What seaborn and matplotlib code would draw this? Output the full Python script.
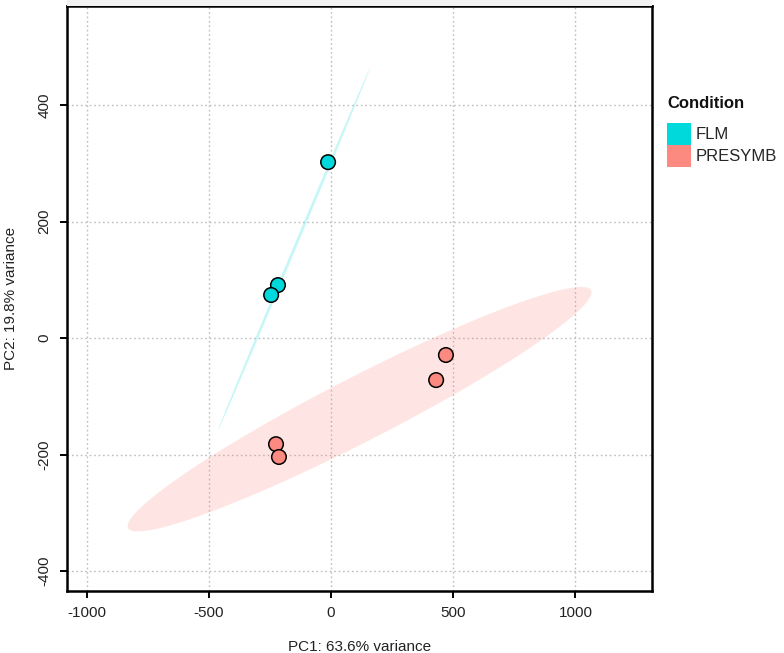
import numpy as np
import pandas as pd
import matplotlib
matplotlib.use("Agg")
import matplotlib.pyplot as plt
from matplotlib.patches import Patch, Rectangle
import seaborn as sns

# ---- data ----
conditions = ["FLM", "FLM", "FLM", "PRESYMB", "PRESYMB", "PRESYMB", "PRESYMB"]
pc1 = [-12, -217, -245, 470, 430, -225, -213]
pc2 = [302, 91, 74, -29, -72, -182, -204]

levels = ["FLM", "PRESYMB"]
colors = ["#00D9DC", "#FC8A80"]

# ellipse parameters (centre, major half-axis vector, minor half-axis vector), data units
ell_center = {"FLM": (-151, 153), "PRESYMB": (117, -122)}
ell_major = {"FLM": (311, 311), "PRESYMB": (947, 204)}
ell_minor = {"FLM": (4.5, -1.9), "PRESYMB": (60, -49)}

x_ticks = [-1000, -500, 0, 500, 1000]
y_ticks = [-400, -200, 0, 200, 400]
xlabel = "PC1: 63.6% variance"
ylabel = "PC2: 19.8% variance"
legend_title = "Condition"

df = pd.DataFrame({"PC1": pc1, "PC2": pc2, "Condition": conditions})

sns.set_style("white")
plt.rcParams["font.family"] = ["Liberation Sans", "DejaVu Sans"]
plt.rcParams["axes.unicode_minus"] = False

fig = plt.figure(figsize=(7.84, 6.53), dpi=100)
ax = fig.add_axes([67 / 784, 1 - 591 / 653, (652 - 67) / 784, (591 - 6) / 653])

# faint strip above the panel
fig.patches.append(Rectangle((67 / 784, 1 - 6 / 653), (652 - 67) / 784, 6 / 653,
                             transform=fig.transFigure, facecolor="#F2F2F2",
                             edgecolor="none", zorder=0))

ax.set_xlim(-1080, 1313)
ax.set_ylim(-434, 570)
ax.set_xticks(x_ticks)
ax.set_yticks(y_ticks)
ax.grid(True, color="#BDBDBD", linestyle=(0, (1.2, 2.0)), linewidth=1.0)
ax.set_axisbelow(True)

# ellipses
t = np.linspace(0, 2 * np.pi, 300)
for lev, col in zip(levels, colors):
    cx, cy = ell_center[lev]
    ax_, ay_ = ell_major[lev]
    bx, by = ell_minor[lev]
    ex = cx + ax_ * np.cos(t) + bx * np.sin(t)
    ey = cy + ay_ * np.cos(t) + by * np.sin(t)
    ax.fill(ex, ey, color=col, alpha=0.22, linewidth=0, zorder=1.5)

sns.scatterplot(data=df, x="PC1", y="PC2", hue="Condition", hue_order=levels,
                palette=colors, s=110, edgecolor="black", linewidth=1.1,
                legend=False, ax=ax, zorder=3)

for sp in ax.spines.values():
    sp.set_visible(True)
    sp.set_color("black")
    sp.set_linewidth(1.8)

ax.tick_params(axis="both", direction="out", length=5, width=1.4, color="black",
               labelsize=11, labelcolor="#222222", pad=6, bottom=True, left=True)
for lab in ax.get_yticklabels():
    lab.set_rotation(90)
    lab.set_va("center")

ax.set_xlabel(xlabel, fontsize=11, color="#222222", labelpad=14)
ax.set_ylabel(ylabel, fontsize=11, color="#222222", labelpad=14)

fig.text(667 / 784, 1 - 103 / 653, legend_title, fontsize=12, fontweight="bold",
         color="#111111", ha="left", va="center")
handles = [Patch(facecolor=c, edgecolor="none", label=l) for l, c in zip(levels, colors)]
leg = fig.legend(handles=handles, loc="upper left",
                 bbox_to_anchor=(667 / 784, 1 - 123 / 653), frameon=False,
                 fontsize=12, handlelength=1.45, handleheight=1.65, handletextpad=0.25,
                 labelspacing=0.0, borderaxespad=0, borderpad=0)

fig.savefig("out.png", dpi=100)
